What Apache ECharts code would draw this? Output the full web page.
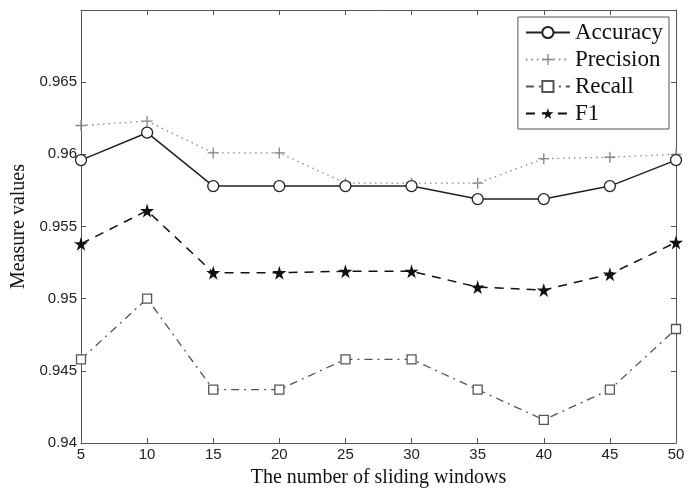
<!DOCTYPE html>
<html>
<head>
<meta charset="utf-8">
<script src="https://cdn.jsdelivr.net/npm/echarts@6/dist/echarts.min.js"></script>
<style>
  html, body { margin: 0; padding: 0; background: #fff; }
  #chart { width: 689px; height: 493px; }
</style>
</head>
<body>
<div id="chart"></div>
<script>
const windows = [5, 10, 15, 20, 25, 30, 35, 40, 45, 50];
const accuracy = [0.9596, 0.9615, 0.9578, 0.9578, 0.9578, 0.9578, 0.9569, 0.9569, 0.9578, 0.9596];
const precision = [0.9620, 0.9623, 0.9601, 0.9601, 0.9580, 0.9580, 0.9580, 0.9597, 0.9598, 0.9600];
const recall = [0.9458, 0.9500, 0.9437, 0.9437, 0.9458, 0.9458, 0.9437, 0.9416, 0.9437, 0.9479];
const f1 = [0.9538, 0.9561, 0.9518, 0.9518, 0.9519, 0.9519, 0.9508, 0.9506, 0.9517, 0.9539];
const yTicks = [0.94, 0.945, 0.95, 0.955, 0.96, 0.965];

const serif = '"Liberation Serif", "DejaVu Serif", serif';
const sans = '"Liberation Sans", Arial, sans-serif';
const axisColor = '#555';

const plusPath = 'path://M4.4,0 L5.6,0 L5.6,4.4 L10,4.4 L10,5.6 L5.6,5.6 L5.6,10 L4.4,10 L4.4,5.6 L0,5.6 L0,4.4 L4.4,4.4 Z';
const starPath = 'path://M50,0 L61,35 L98,35 L68,57 L79,91 L50,70 L21,91 L32,57 L2,35 L39,35 Z';

function pairs(vals) {
  return windows.map((w, i) => [w, vals[i]]);
}

const chart = echarts.init(document.getElementById('chart'));

const tickStyle = { show: true, inside: true, length: 5, lineStyle: { color: axisColor } };

chart.setOption({
  backgroundColor: '#fff',
  animation: false,
  grid: { left: 81, right: 13, top: 10, bottom: 50 },
  legend: {
    orient: 'vertical',
    right: 20,
    top: 17,
    backgroundColor: '#fff',
    borderColor: '#555',
    borderWidth: 1,
    padding: [4, 6, 4, 7],
    itemGap: 4,
    itemWidth: 44,
    itemHeight: 14,
    textStyle: { fontFamily: serif, fontSize: 23, color: '#111' },
    data: ['Accuracy', 'Precision', 'Recall', 'F1']
  },
  xAxis: [{
    type: 'value',
    min: 5,
    max: 50,
    interval: 5,
    name: 'The number of sliding windows',
    nameLocation: 'middle',
    nameGap: 25,
    nameTextStyle: { fontFamily: serif, fontSize: 20, color: '#111' },
    axisLine: { show: true, lineStyle: { color: axisColor } },
    axisTick: tickStyle,
    axisLabel: { fontFamily: sans, fontSize: 15, color: '#222', margin: 4 },
    splitLine: { show: false }
  }, {
    type: 'value',
    position: 'top',
    min: 5,
    max: 50,
    interval: 5,
    axisLine: { show: true, onZero: false, lineStyle: { color: axisColor } },
    axisTick: tickStyle,
    axisLabel: { show: false },
    splitLine: { show: false }
  }],
  yAxis: [{
    type: 'value',
    min: 0.94,
    max: 0.97,
    interval: 0.005,
    name: 'Measure values',
    nameLocation: 'middle',
    nameGap: 47,
    nameTextStyle: { fontFamily: serif, fontSize: 20, color: '#111' },
    axisLine: { show: true, lineStyle: { color: axisColor } },
    axisTick: tickStyle,
    axisLabel: {
      fontFamily: sans, fontSize: 15, color: '#222', margin: 4,
      formatter: v => {
        const r = Number(v.toFixed(3));
        return yTicks.includes(r) ? String(r) : '';
      }
    },
    splitLine: { show: false }
  }, {
    type: 'value',
    position: 'right',
    min: 0.94,
    max: 0.97,
    interval: 0.005,
    axisLine: { show: true, onZero: false, lineStyle: { color: axisColor } },
    axisTick: tickStyle,
    axisLabel: { show: false },
    splitLine: { show: false }
  }],
  series: [{
    name: 'Accuracy',
    type: 'line',
    data: pairs(accuracy),
    symbol: 'circle',
    symbolSize: 11,
    showAllSymbol: true,
    lineStyle: { color: '#222', width: 1.5, type: 'solid' },
    itemStyle: { color: '#fff', borderColor: '#222', borderWidth: 1.3 },
    z: 4
  }, {
    name: 'Precision',
    type: 'line',
    data: pairs(precision),
    symbol: plusPath,
    symbolSize: 11,
    lineStyle: { color: '#888', width: 1.3, type: [1.5, 4] },
    itemStyle: { color: '#888', borderWidth: 0 },
    z: 3
  }, {
    name: 'Recall',
    type: 'line',
    data: pairs(recall),
    symbol: 'rect',
    symbolSize: 9,
    lineStyle: { color: '#555', width: 1.3, type: [8, 5, 2, 5] },
    itemStyle: { color: '#fff', borderColor: '#555', borderWidth: 1.3 },
    z: 3
  }, {
    name: 'F1',
    type: 'line',
    data: pairs(f1),
    symbol: starPath,
    symbolSize: 14,
    lineStyle: { color: '#111', width: 1.5, type: [9, 7] },
    itemStyle: { color: '#111', borderColor: '#111', borderWidth: 0 },
    z: 4
  }]
});
</script>
</body>
</html>
